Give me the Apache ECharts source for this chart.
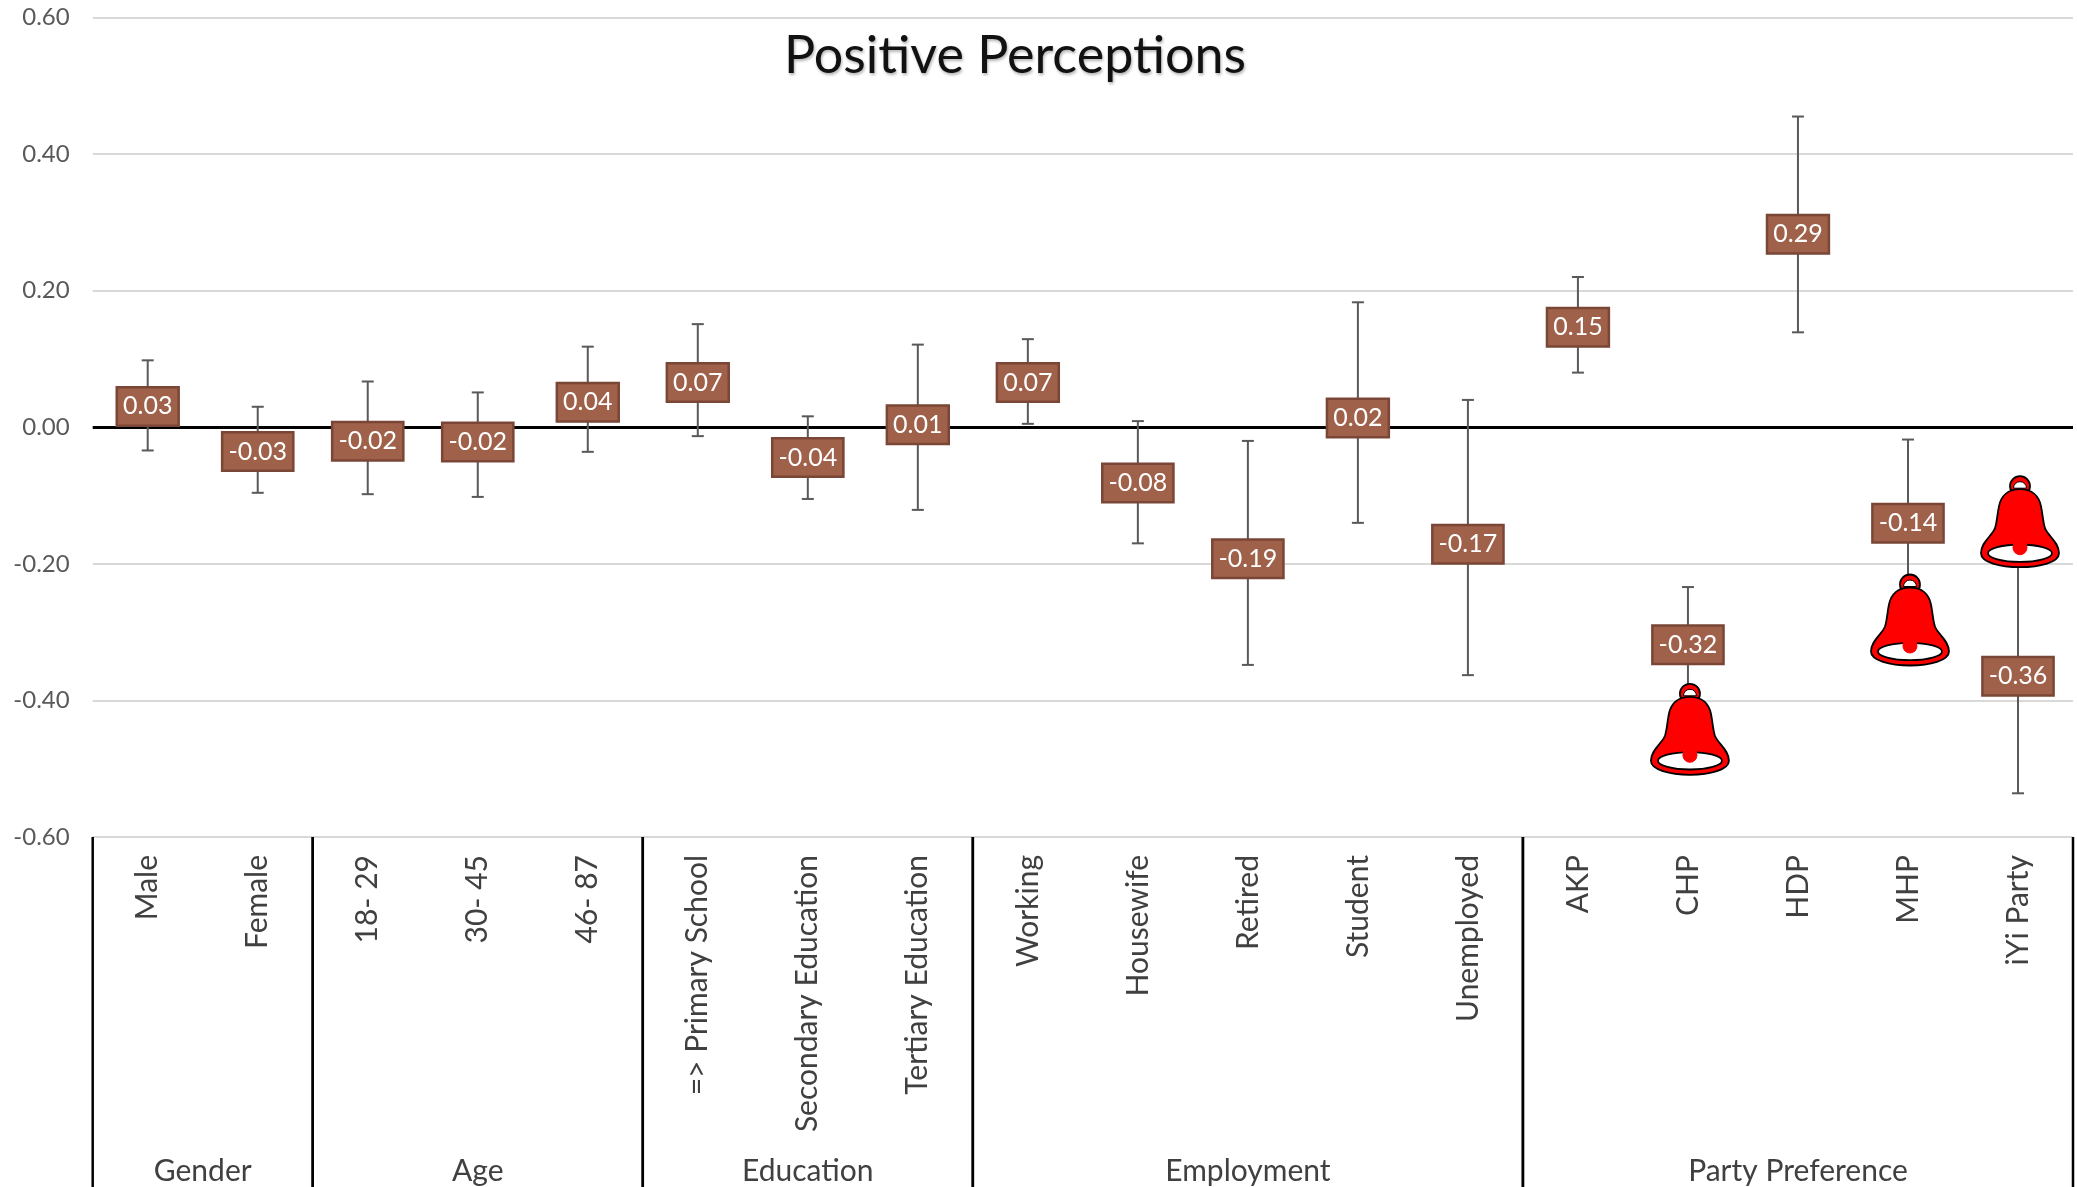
<!DOCTYPE html>
<html><head><meta charset="utf-8">
<style>html,body{margin:0;padding:0;background:#fff}#c{width:2077px;height:1187px}</style>
<script src="https://cdn.jsdelivr.net/npm/echarts@6/dist/echarts.min.js"></script>
</head><body><div id="c"></div>
<script>
const categories = ['Male','Female','18- 29','30- 45','46- 87','=> Primary School','Secondary Education','Tertiary Education','Working','Housewife','Retired','Student','Unemployed','AKP','CHP','HDP','MHP','iYi Party'];
const means  = [0.032,-0.034,-0.019,-0.020,0.038,0.067,-0.043,0.005,0.067,-0.080,-0.191,0.015,-0.170,0.148,-0.317,0.284,-0.139,-0.363];
const shown  = ['0.03','-0.03','-0.02','-0.02','0.04','0.07','-0.04','0.01','0.07','-0.08','-0.19','0.02','-0.17','0.15','-0.32','0.29','-0.14','-0.36'];
const upper  = [0.098,0.030,0.067,0.051,0.118,0.151,0.016,0.121,0.129,0.009,-0.020,0.183,0.040,0.220,-0.234,0.455,-0.018,-0.190];
const lower  = [-0.034,-0.096,-0.098,-0.102,-0.036,-0.013,-0.105,-0.121,0.005,-0.170,-0.348,-0.140,-0.363,0.080,-0.400,0.139,-0.260,-0.536];
const groupNames = ['Gender','Age','Education','Employment','Party Preference'];
const groupStart = [0,2,5,8,13];
const groupCount = [2,3,3,5,5];
const bellCategories = ['CHP','MHP','iYi Party'];
const bellValues = [-0.443,-0.283,-0.139];
const title = 'Positive Perceptions';
const FONT = 'Lato';

const chart = echarts.init(document.getElementById('c'), null, {renderer:'canvas'});
const bellBody = 'M 0 -33 C 12 -33 19 -26 21 -16 C 23 -6 23 0 25 6 C 28 14 39 20 39 31 C 39 40 20 45 0 45 C -20 45 -39 40 -39 31 C -39 20 -28 14 -25 6 C -23 0 -23 -6 -21 -16 C -19 -26 -12 -33 0 -33 Z';
const lineS = {stroke:'#000',lineWidth:1.8};

chart.setOption({
  animation:false,
  backgroundColor:'#fff',
  textStyle:{fontFamily:FONT},
  title:{text:title,left:1010,top:25,textAlign:'center',
    textStyle:{fontFamily:FONT,fontSize:52,fontWeight:'normal',color:'#111',textShadowColor:'rgba(0,0,0,0.3)',textShadowBlur:3,textShadowOffsetX:1,textShadowOffsetY:2}},
  grid:{left:92.7,right:4,top:17.5,bottom:350,containLabel:false},
  xAxis:{type:'category',data:categories,position:'bottom',
    axisLine:{show:false,onZero:false},axisTick:{show:false},
    axisLabel:{interval:0,rotate:90,margin:18,padding:[4,0,0,0],fontFamily:FONT,fontSize:30,color:'#404040'}},
  yAxis:{type:'value',min:-0.6,max:0.6,interval:0.2,
    axisLine:{show:false},axisTick:{show:false},
    splitLine:{lineStyle:{color:'#D9D9D9',width:2}},
    axisLabel:{margin:23,fontFamily:FONT,fontSize:24,color:'#595959',formatter:v=>v.toFixed(2)}},
  series:[
    {type:'custom',name:'ci',silent:true,z:3,clip:false,
     data:categories.map((c,i)=>[i,lower[i],upper[i]]),
     encode:{x:0,y:[1,2]},
     markLine:{silent:true,symbol:'none',label:{show:false},z:2,animation:false,
       lineStyle:{color:'#000',width:3,type:'solid'},data:[{yAxis:0}]},
     renderItem(p,api){
       const i=api.value(0), a=api.coord([i,api.value(1)]), b=api.coord([i,api.value(2)]);
       const s={stroke:'#595959',lineWidth:2}, h=6;
       return {type:'group',children:[
         {type:'line',shape:{x1:a[0],y1:a[1],x2:b[0],y2:b[1]},style:s},
         {type:'line',shape:{x1:a[0]-h,y1:a[1],x2:a[0]+h,y2:a[1]},style:s},
         {type:'line',shape:{x1:b[0]-h,y1:b[1],x2:b[0]+h,y2:b[1]},style:s}
       ]};
     }},
    {type:'scatter',name:'mean',silent:true,z:5,symbolSize:1,
     itemStyle:{color:'#A0614B',opacity:1},
     data:categories.map((c,i)=>[i,means[i]]),
     label:{show:true,position:'inside',offset:[0,1],opacity:1,formatter:p=>shown[p.dataIndex],fontFamily:FONT,fontSize:25,color:'#fff',
       backgroundColor:'#A0614B',borderColor:'#7A4636',borderWidth:2.5,padding:[6,5,5,5]}},
    {type:'custom',name:'bell',silent:true,z:6,clip:false,
     data:bellCategories.map((c,i)=>[categories.indexOf(c),bellValues[i]]),
     encode:{x:0,y:1},
     renderItem(p,api){
       const c=api.coord([api.value(0),api.value(1)]);
       return {type:'group',x:c[0]+2,y:c[1],children:[
         {type:'circle',shape:{cx:0,cy:-36,r:10},style:{fill:'#FF0000',...lineS}},
         {type:'sector',shape:{cx:0,cy:-34,r0:0,r:6.5,startAngle:Math.PI,endAngle:2*Math.PI},style:{fill:'#fff',stroke:'#000',lineWidth:1}},
         {type:'path',shape:{pathData:bellBody,x:-39,y:-33,width:78,height:78},style:{fill:'#FF0000',...lineS}},
         {type:'ellipse',shape:{cx:0,cy:31,rx:32,ry:8.7},style:{fill:'#fff',...lineS}},
         {type:'circle',shape:{cx:0,cy:25.5,r:7},style:{fill:'#FF0000',stroke:'#FF0000',lineWidth:1}},
         {type:'rect',shape:{x:-7,y:18,width:14,height:7},style:{fill:'#FF0000'}}
       ]};
     }},
    {type:'custom',name:'groups',silent:true,z:4,clip:false,
     data:groupNames.map((g,i)=>[groupStart[i],groupCount[i]]),
     encode:{x:0},
     renderItem(p,api){
       const st=api.value(0), n=groupCount[p.dataIndex], bw=api.size([1,0])[0];
       const base=api.coord([st,-0.6]), x0=base[0]-bw/2, x1=x0+n*bw, H=api.getHeight();
       const s={stroke:'#000',lineWidth:2.5};
       const ch=[
         {type:'line',shape:{x1:x0,y1:base[1],x2:x0,y2:H},style:s},
         {type:'line',shape:{x1:x1,y1:base[1],x2:x1,y2:H},style:s},
         {type:'text',style:{text:groupNames[p.dataIndex],x:(x0+x1)/2,y:H-16,align:'center',verticalAlign:'middle',fontFamily:FONT,fontSize:30,fill:'#404040'}}
       ];
       return {type:'group',children:ch};
     }}
  ]
});
</script></body></html>
